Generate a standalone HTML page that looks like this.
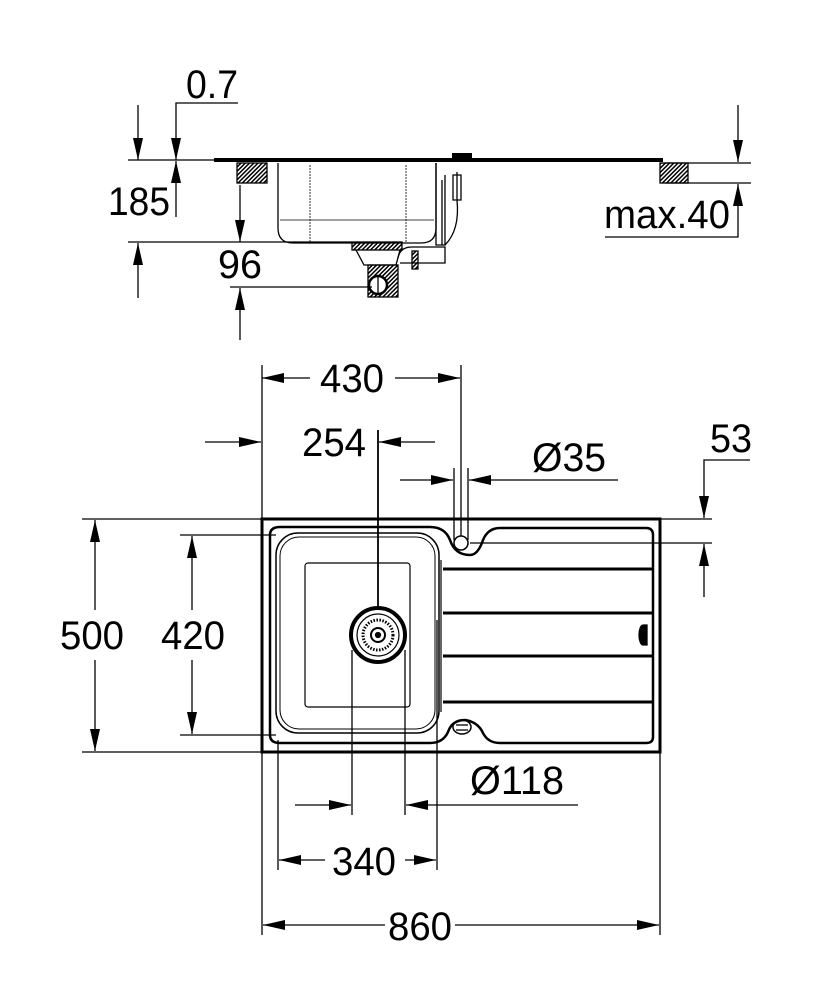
<!DOCTYPE html>
<html><head><meta charset="utf-8"><style>
html,body{margin:0;padding:0;background:#fff}
svg{display:block}
text{font-family:"Liberation Sans",Arial,sans-serif;font-size:40px;fill:#000}
</style></head><body>
<svg width="834" height="1000" viewBox="0 0 834 1000" xmlns="http://www.w3.org/2000/svg">
<defs>
<marker id="a" viewBox="0 0 22 10" refX="22" refY="5" markerWidth="22" markerHeight="10" markerUnits="userSpaceOnUse" orient="auto"><path d="M0,0L22,5L0,10Z" fill="#000"/></marker>
<pattern id="h" width="3" height="3" patternUnits="userSpaceOnUse" patternTransform="rotate(45)"><rect width="1.5" height="3" fill="#000"/></pattern>
</defs>
<g stroke="#000" fill="none" stroke-width="1.3">
<line x1="128" y1="160" x2="240" y2="160"/>
<rect x="214" y="158" width="449" height="4" fill="#000" stroke="none"/>
<rect x="452" y="153" width="20" height="7" fill="#000" stroke="none"/>
<rect x="237" y="163" width="30" height="20" fill="url(#h)" stroke="#000"/>
<rect x="660" y="163" width="28" height="20" fill="url(#h)" stroke="#000"/>
<line x1="665" y1="163" x2="751" y2="163"/>
<line x1="665" y1="183" x2="751" y2="183"/>
<path d="M278,163 V228 Q278,243 293,243 H421 Q436,243 436,228 V163"/>
<line x1="310" y1="165" x2="310" y2="243" stroke-dasharray="2 1" stroke-width="0.8"/>
<line x1="406" y1="165" x2="406" y2="243" stroke-dasharray="2 1" stroke-width="0.8"/>
<line x1="280" y1="220" x2="434" y2="220" stroke-width="0.8"/>
<line x1="128" y1="242" x2="352" y2="242"/>
<rect x="352" y="242" width="50" height="8" fill="url(#h)"/>
<path d="M356,250 L364,265 H396 L400,250"/>
<rect x="368" y="265" width="30" height="32" fill="url(#h)"/>
<circle cx="378" cy="285" r="9" fill="#fff" stroke-width="2.5"/>
<line x1="378" y1="276" x2="378" y2="294"/>
<path d="M398,258 Q400,247 412,247 H445 V263 H400"/>
<rect x="412" y="251" width="6" height="18" fill="url(#h)"/>
<path d="M436,163 V245 H445 V175 M442,180 V245"/>
<path d="M457,172 V200 M453,175 h8 v25 h-8z"/>
<path d="M457,200 Q460,230 445,245" />
<line x1="230" y1="287" x2="372" y2="287"/>
<line x1="138" y1="105" x2="138" y2="160" marker-end="url(#a)"/>
<line x1="138" y1="298" x2="138" y2="243" marker-end="url(#a)"/>
<polyline points="238,103 176,103 176,160" marker-end="url(#a)"/>
<line x1="176" y1="217" x2="176" y2="161" marker-end="url(#a)"/>
<line x1="240" y1="185" x2="240" y2="242" marker-end="url(#a)"/>
<line x1="240" y1="340" x2="240" y2="288" marker-end="url(#a)"/>
<line x1="738" y1="105" x2="738" y2="162" marker-end="url(#a)"/>
<polyline points="605,237 738,237 738,184" marker-end="url(#a)"/>

<rect x="262" y="519" width="398" height="233" stroke-width="3"/>
<path d="M270,535 Q270,527 280,527 H430 Q445,527 450,540 Q455,555 470,555 Q478,555 483,540 Q488,528 500,528 H646 Q653,528 653,535 V737 Q653,743 646,743 H500 Q488,743 483,733 Q478,722 465,720 Q452,720 448,732 Q443,743 430,743 H280 Q270,743 270,735 Z" stroke-width="2.5"/>
<rect x="276" y="533" width="163" height="200" rx="22" stroke-width="1.5"/>
<rect x="280" y="537" width="155" height="192" rx="19" stroke-width="1"/>
<rect x="305" y="563" width="105" height="144" rx="3" stroke-width="1.2"/>
<line x1="443" y1="569" x2="652" y2="569" stroke-width="3"/>
<line x1="443" y1="613" x2="652" y2="613" stroke-width="3"/>
<line x1="443" y1="656" x2="652" y2="656" stroke-width="3"/>
<line x1="443" y1="702" x2="652" y2="702" stroke-width="3"/>
<line x1="441" y1="560" x2="441" y2="712" stroke-width="1.2"/>
<path d="M647,625 v20 h-4 a4,10 0 0 1 0,-20z" fill="#000"/>
<circle cx="461" cy="543" r="7" stroke-width="1.5"/>
<ellipse cx="462" cy="727" rx="9" ry="7" stroke-width="1.5"/>
<line x1="456" y1="725" x2="468" y2="725"/><line x1="456" y1="730" x2="468" y2="730"/>
<circle cx="378" cy="635" r="27" stroke-width="4"/>
<circle cx="378" cy="635" r="21" stroke-width="1.2"/>
<circle cx="378" cy="635" r="15" stroke-width="3" stroke-dasharray="1.5 1.5"/>
<circle cx="378" cy="635" r="7" stroke-width="2"/>
<circle cx="378" cy="635" r="2.5" fill="#000"/>
<line x1="262" y1="365" x2="262" y2="935"/>
<line x1="461" y1="365" x2="461" y2="536"/>
<line x1="454" y1="468" x2="454" y2="540"/>
<line x1="468" y1="468" x2="468" y2="540"/>
<line x1="378" y1="430" x2="378" y2="610" stroke-width="1.8"/>
<line x1="82" y1="519" x2="262" y2="519"/>
<line x1="82" y1="752" x2="262" y2="752"/>
<line x1="660" y1="519" x2="712" y2="519"/>
<line x1="470" y1="543" x2="712" y2="543"/>
<line x1="180" y1="535" x2="276" y2="535"/>
<line x1="180" y1="735" x2="276" y2="735"/>
<line x1="352" y1="650" x2="352" y2="815"/>
<line x1="405" y1="650" x2="405" y2="815"/>
<line x1="278" y1="740" x2="278" y2="870"/>
<line x1="437" y1="620" x2="437" y2="870"/>
<line x1="660" y1="752" x2="660" y2="935"/>
<line x1="310" y1="378" x2="262" y2="378" marker-end="url(#a)"/>
<line x1="395" y1="378" x2="460" y2="378" marker-end="url(#a)"/>
<line x1="205" y1="442" x2="261" y2="442" marker-end="url(#a)"/>
<line x1="435" y1="442" x2="379" y2="442" marker-end="url(#a)"/>
<line x1="400" y1="480" x2="453" y2="480" marker-end="url(#a)"/>
<line x1="618" y1="480" x2="469" y2="480" marker-end="url(#a)"/>
<polyline points="750,460 704,460 704,518" marker-end="url(#a)"/>
<line x1="704" y1="597" x2="704" y2="544" marker-end="url(#a)"/>
<line x1="95" y1="610" x2="95" y2="520" marker-end="url(#a)"/>
<line x1="95" y1="660" x2="95" y2="751" marker-end="url(#a)"/>
<line x1="192" y1="610" x2="192" y2="536" marker-end="url(#a)"/>
<line x1="192" y1="660" x2="192" y2="734" marker-end="url(#a)"/>
<line x1="295" y1="805" x2="351" y2="805" marker-end="url(#a)"/>
<line x1="578" y1="805" x2="406" y2="805" marker-end="url(#a)"/>
<line x1="325" y1="860" x2="279" y2="860" marker-end="url(#a)"/>
<line x1="405" y1="860" x2="436" y2="860" marker-end="url(#a)"/>
<line x1="385" y1="925" x2="263" y2="925" marker-end="url(#a)"/>
<line x1="455" y1="925" x2="659" y2="925" marker-end="url(#a)"/>
</g>
<g>
<text x="186" y="98" textLength="52" lengthAdjust="spacingAndGlyphs">0.7</text>
<text x="108" y="215" textLength="62" lengthAdjust="spacingAndGlyphs">185</text>
<text x="218" y="278" textLength="44" lengthAdjust="spacingAndGlyphs">96</text>
<text x="604" y="228" textLength="126" lengthAdjust="spacingAndGlyphs">max.40</text>
<text x="320" y="392" textLength="64" lengthAdjust="spacingAndGlyphs">430</text>
<text x="302" y="456" textLength="64" lengthAdjust="spacingAndGlyphs">254</text>
<text x="532" y="471" textLength="74" lengthAdjust="spacingAndGlyphs">Ø35</text>
<text x="710" y="452" textLength="42" lengthAdjust="spacingAndGlyphs">53</text>
<text x="60" y="649" textLength="64" lengthAdjust="spacingAndGlyphs">500</text>
<text x="161" y="649" textLength="64" lengthAdjust="spacingAndGlyphs">420</text>
<text x="470" y="794" textLength="94" lengthAdjust="spacingAndGlyphs">Ø118</text>
<text x="332" y="875" textLength="64" lengthAdjust="spacingAndGlyphs">340</text>
<text x="388" y="940" textLength="64" lengthAdjust="spacingAndGlyphs">860</text>
</g>
</svg>
</body></html>
